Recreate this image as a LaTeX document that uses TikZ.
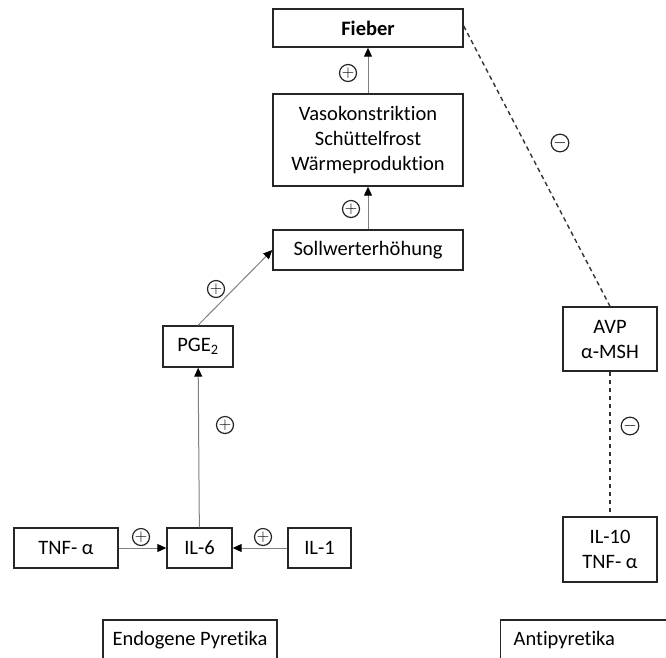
\documentclass[tikz,border=0pt]{standalone}
\usepackage{fontspec}
\setmainfont{Carlito}[Ligatures=NoCommon]
\usepackage{tikz}
\usetikzlibrary{arrows.meta,positioning}

\begin{document}
\begin{tikzpicture}[x=1pt, y=-1pt, font=\fontsize{20.5}{25}\selectfont,
  box/.style={rectangle, draw=black!85, line width=1.4pt, align=center, inner sep=2pt, minimum height=40pt},
  plus/.style={draw=gray, line width=1pt, -{Triangle[black, length=9pt, width=8pt]}},
  minus/.style={draw=black!80, line width=1.4pt, dash pattern=on 4.5pt off 3.5pt},
  sgn/.style={circle, draw=black!85, line width=1.2pt, inner sep=0pt, minimum size=17pt, font=\fontsize{16}{16}\selectfont}]
  \useasboundingbox (0,0) rectangle (666,657);
  \clip (0,0) rectangle (666,657);
  \node[box, minimum width=190pt, minimum height=38pt] (fieber) at (368,28) {\textbf{Fieber}};
  \node[box, minimum width=190pt, minimum height=92pt] (symp) at (368,140) {Vasokonstriktion\\Schüttelfrost\\Wärmeproduktion};
  \node[box, minimum width=190pt] (soll) at (368,250) {Sollwerterhöhung};
  \node[box, minimum width=70pt, minimum height=41pt] (pge) at (198,346.5) {PGE\textsubscript{2}};
  \node[box, minimum width=104pt] (tnf) at (66,548) {TNF- α};
  \node[box, minimum width=65pt] (il6) at (199.5,548) {IL-6};
  \node[box, minimum width=63pt] (il1) at (319.5,548) {IL-1};
  \node[box, minimum width=94pt, minimum height=64pt] (avp) at (610,339) {AVP\\α-MSH};
  \node[box, minimum width=94pt, minimum height=65pt] (il10) at (610,549.5) {IL-10\\TNF- α};
  \node[box, minimum width=174pt] (endo) at (190,640) {Endogene Pyretika};
  \node[box, anchor=west, inner xsep=13pt, text width=154pt, align=left] (anti) at (500,640) {Antipyretika};
  \draw[plus] (symp) -- (fieber);
  \draw[plus] (soll) -- (symp);
  \draw[plus] (pge.north) -- (soll.west);
  \draw[plus] (il6) -- (pge);
  \draw[plus] (tnf) -- (il6);
  \draw[plus] (il1) -- (il6);
  \coordinate (f) at ([yshift=2pt]fieber.east);
  \draw[minus] (f) -- (avp.north);
  \draw[minus] (avp) -- (il10);
  \node[sgn] (s1) at (348,73) {$+$};
  \node[sgn] (s2) at (351,209) {$+$};
  \node[sgn] (s3) at (216,289) {$+$};
  \node[sgn] (s4) at (225,425) {$+$};
  \node[sgn] (s5) at (141,537) {$+$};
  \node[sgn] (s6) at (263,537) {$+$};
  \node[sgn] (s7) at (560,143) {$-$};
  \node[sgn] (s8) at (630,426) {$-$};
\end{tikzpicture}
\end{document}
